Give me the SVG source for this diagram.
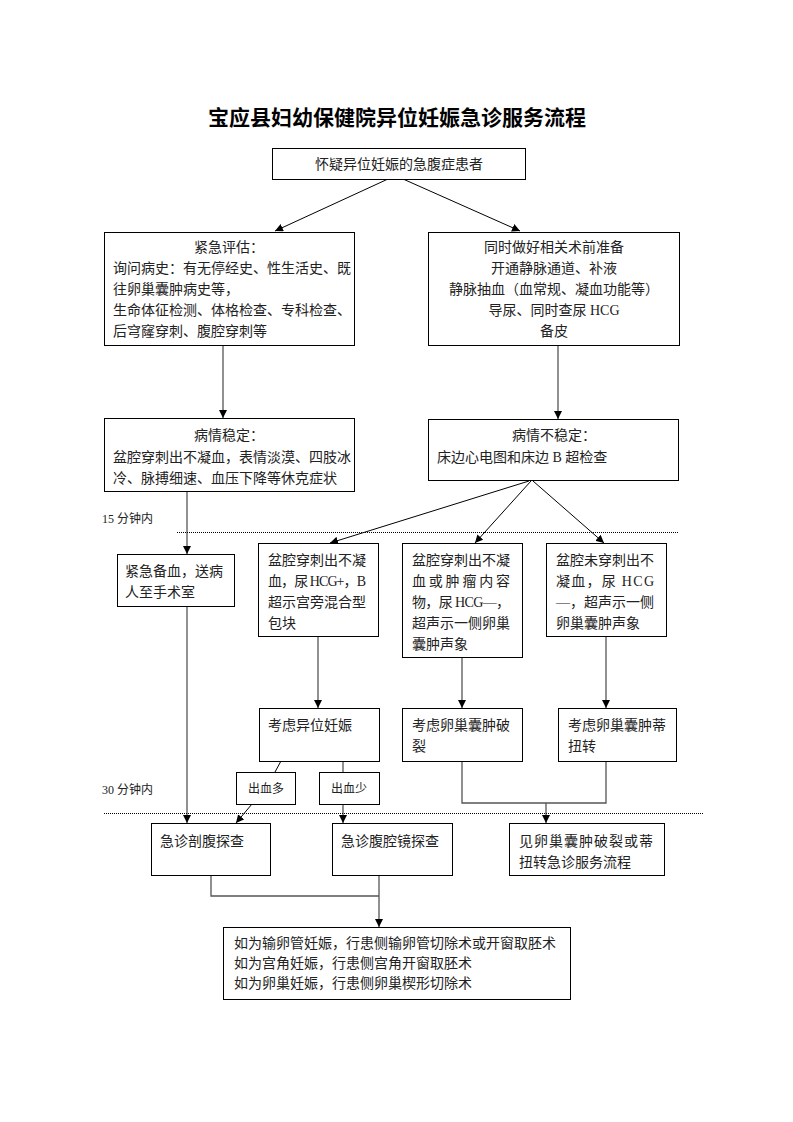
<svg xmlns="http://www.w3.org/2000/svg" width="793" height="1122" viewBox="0 0 793 1122">
<style>
.bg{fill:#fff}
.box{fill:#fff;stroke:#000;stroke-width:1}
.t{font-family:"Liberation Serif","Noto Sans CJK SC",serif;font-size:14px;fill:#222}
.c{text-anchor:middle}
.s{font-size:12px}
.title{font-family:"Noto Sans CJK SC",sans-serif;font-size:21px;font-weight:bold;fill:#000;text-anchor:middle}
.ln{fill:none;stroke:#000;stroke-width:1}
.gl{fill:none;stroke:#555;stroke-width:1.3}
.dot{fill:none;stroke:#000;stroke-width:1;stroke-dasharray:1 1}
</style>
<defs>
<marker id="ah" viewBox="0 0 10 10" refX="10" refY="5" markerWidth="8" markerHeight="8" markerUnits="userSpaceOnUse" orient="auto">
<path d="M0,0 L10,5 L0,10 z" fill="#000"/>
</marker>
</defs>
<rect class="bg" x="0" y="0" width="793" height="1122"/>
<text class="title" x="397" y="125">宝应县妇幼保健院异位妊娠急诊服务流程</text>

<g id="connectors">
<line class="ln" x1="388" y1="179" x2="275" y2="231" marker-end="url(#ah)"/>
<line class="ln" x1="403" y1="179" x2="520" y2="231" marker-end="url(#ah)"/>
<line class="gl" x1="223" y1="345" x2="223" y2="418" marker-end="url(#ah)"/>
<line class="gl" x1="558" y1="345" x2="558" y2="419" marker-end="url(#ah)"/>
<line class="gl" x1="187" y1="491" x2="187" y2="554" marker-end="url(#ah)"/>
<line class="ln" x1="529" y1="481" x2="330" y2="543" marker-end="url(#ah)"/>
<line class="ln" x1="531" y1="481" x2="475" y2="543" marker-end="url(#ah)"/>
<line class="ln" x1="533" y1="481" x2="604" y2="543" marker-end="url(#ah)"/>
<line class="gl" x1="318" y1="636" x2="318" y2="708" marker-end="url(#ah)"/>
<line class="gl" x1="462" y1="657" x2="462" y2="708" marker-end="url(#ah)"/>
<line class="gl" x1="606" y1="636" x2="606" y2="708" marker-end="url(#ah)"/>
<line class="ln" x1="281" y1="761" x2="275" y2="772"/>
<line class="gl" x1="343" y1="761" x2="343" y2="772"/>
<line class="ln" x1="252" y1="804" x2="236" y2="823" marker-end="url(#ah)"/>
<line class="gl" x1="343" y1="804" x2="343" y2="823" marker-end="url(#ah)"/>
<line class="gl" x1="187" y1="606" x2="187" y2="823" marker-end="url(#ah)"/>
<polyline class="gl" points="462,761 462,803 606,803 606,761"/>
<line class="gl" x1="546" y1="803" x2="546" y2="823" marker-end="url(#ah)"/>
<polyline class="gl" points="211,875 211,896 379,896"/>
<line class="gl" x1="379" y1="875" x2="379" y2="927" marker-end="url(#ah)"/>
</g>

<line class="dot" x1="177" y1="532.5" x2="678" y2="532.5"/>
<line class="dot" x1="104" y1="813.5" x2="704" y2="813.5"/>
<text class="t s" x="102" y="523">15 分钟内</text>
<text class="t s" x="102" y="794">30 分钟内</text>

<g id="nodeA">
<rect class="box" x="272.5" y="148.5" width="253" height="31"/>
<text class="t c" x="399" y="169">怀疑异位妊娠的急腹症患者</text>
</g>
<g id="nodeB">
<rect class="box" x="104.5" y="232.5" width="250" height="113"/>
<text class="t c" x="229" y="252">紧急评估：</text>
<text class="t" x="113" y="273">询问病史：有无停经史、性生活史、既</text>
<text class="t" x="113" y="294">往卵巢囊肿病史等，</text>
<text class="t" x="113" y="315">生命体征检测、体格检查、专科检查、</text>
<text class="t" x="113" y="336">后穹窿穿刺、腹腔穿刺等</text>
</g>
<g id="nodeC">
<rect class="box" x="428.5" y="232.5" width="251" height="113"/>
<text class="t c" x="554" y="252">同时做好相关术前准备</text>
<text class="t c" x="554" y="273">开通静脉通道、补液</text>
<text class="t c" x="554" y="294">静脉抽血（血常规、凝血功能等）</text>
<text class="t c" x="554" y="315">导尿、同时查尿 HCG</text>
<text class="t c" x="554" y="336">备皮</text>
</g>
<g id="nodeD">
<rect class="box" x="104.5" y="418.5" width="250" height="73"/>
<text class="t c" x="229" y="440">病情稳定：</text>
<text class="t" x="113" y="462">盆腔穿刺出不凝血，表情淡漠、四肢冰</text>
<text class="t" x="113" y="483">冷、脉搏细速、血压下降等休克症状</text>
</g>
<g id="nodeE">
<rect class="box" x="428.5" y="419.5" width="250" height="61"/>
<text class="t c" x="554" y="440">病情不稳定：</text>
<text class="t" x="437" y="462">床边心电图和床边 B 超检查</text>
</g>
<g id="nodeF">
<rect class="box" x="117.5" y="554.5" width="117" height="52"/>
<text class="t" x="125" y="576">紧急备血，送病</text>
<text class="t" x="125" y="597">人至手术室</text>
</g>
<g id="nodeG">
<rect class="box" x="258.5" y="543.5" width="120" height="93"/>
<text class="t" x="268" y="565">盆腔穿刺出不凝</text>
<text class="t" x="268" y="586" textLength="98" lengthAdjust="spacing">血，尿 HCG+，B</text>
<text class="t" x="268" y="607">超示宫旁混合型</text>
<text class="t" x="268" y="628">包块</text>
</g>
<g id="nodeH">
<rect class="box" x="402.5" y="543.5" width="120" height="114"/>
<text class="t" x="412" y="565">盆腔穿刺出不凝</text>
<text class="t" x="412" y="586" textLength="98" lengthAdjust="spacing">血或肿瘤内容</text>
<text class="t" x="412" y="607" textLength="98" lengthAdjust="spacing">物，尿 HCG—，</text>
<text class="t" x="412" y="628">超声示一侧卵巢</text>
<text class="t" x="412" y="649">囊肿声象</text>
</g>
<g id="nodeI">
<rect class="box" x="546.5" y="543.5" width="120" height="93"/>
<text class="t" x="556" y="565">盆腔未穿刺出不</text>
<text class="t" x="556" y="586" textLength="98" lengthAdjust="spacing">凝血，尿 HCG</text>
<text class="t" x="556" y="607" textLength="98" lengthAdjust="spacing">—，超声示一侧</text>
<text class="t" x="556" y="628">卵巢囊肿声象</text>
</g>
<g id="nodeJ">
<rect class="box" x="259.5" y="708.5" width="120" height="53"/>
<text class="t" x="268" y="730">考虑异位妊娠</text>
</g>
<g id="nodeK">
<rect class="box" x="402.5" y="708.5" width="120" height="53"/>
<text class="t" x="412" y="730">考虑卵巢囊肿破</text>
<text class="t" x="412" y="751">裂</text>
</g>
<g id="nodeL">
<rect class="box" x="558.5" y="708.5" width="118" height="53"/>
<text class="t" x="568" y="730">考虑卵巢囊肿蒂</text>
<text class="t" x="568" y="751">扭转</text>
</g>
<g id="nodeMore">
<rect class="box" x="236.5" y="772.5" width="59" height="32"/>
<text class="t s c" x="266" y="793">出血多</text>
</g>
<g id="nodeLess">
<rect class="box" x="319.5" y="772.5" width="60" height="32"/>
<text class="t s c" x="349" y="793">出血少</text>
</g>
<g id="nodeM">
<rect class="box" x="151.5" y="823.5" width="119" height="52"/>
<text class="t" x="160" y="846">急诊剖腹探查</text>
</g>
<g id="nodeN">
<rect class="box" x="332.5" y="823.5" width="120" height="52"/>
<text class="t" x="341" y="846">急诊腹腔镜探查</text>
</g>
<g id="nodeO">
<rect class="box" x="509.5" y="823.5" width="155" height="52"/>
<text class="t" x="519" y="846" textLength="134" lengthAdjust="spacing">见卵巢囊肿破裂或蒂</text>
<text class="t" x="519" y="867">扭转急诊服务流程</text>
</g>
<g id="nodeP">
<rect class="box" x="223.5" y="927.5" width="347" height="72"/>
<text class="t" x="234" y="948">如为输卵管妊娠，行患侧输卵管切除术或开窗取胚术</text>
<text class="t" x="234" y="968">如为宫角妊娠，行患侧宫角开窗取胚术</text>
<text class="t" x="234" y="988">如为卵巢妊娠，行患侧卵巢楔形切除术</text>
</g>
</svg>
